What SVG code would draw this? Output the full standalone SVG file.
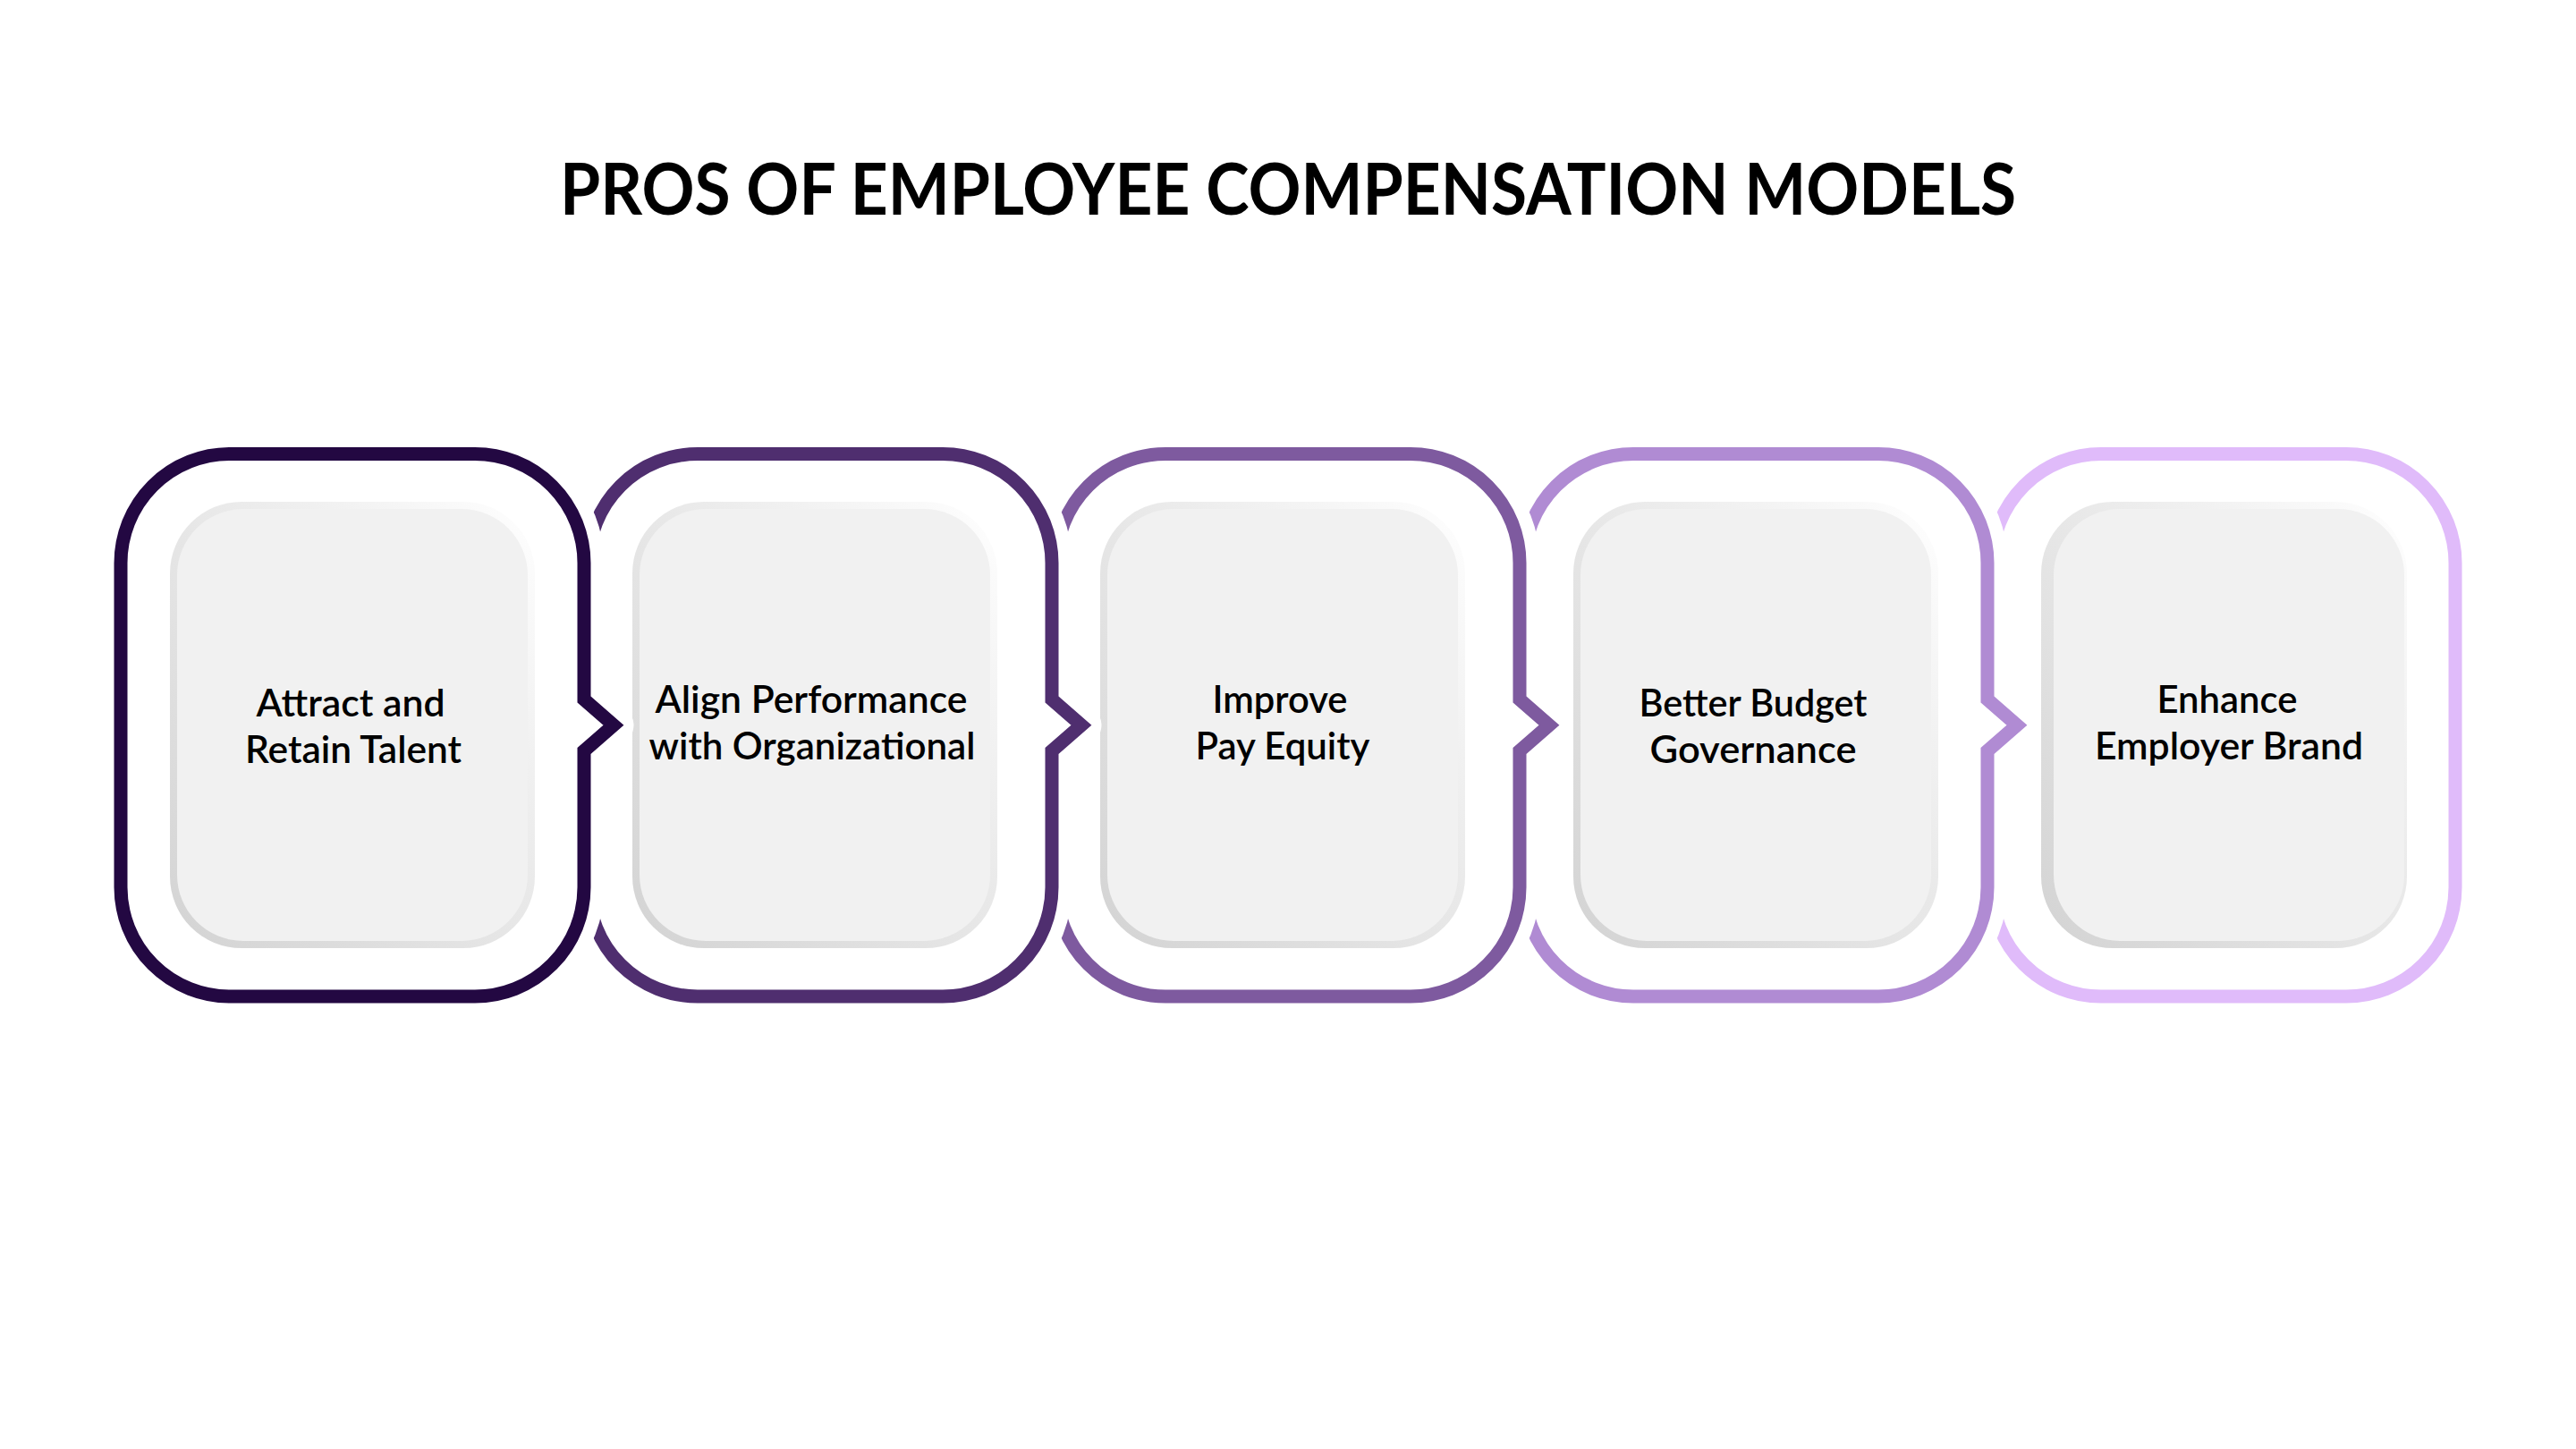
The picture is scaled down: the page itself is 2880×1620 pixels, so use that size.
<svg xmlns="http://www.w3.org/2000/svg" width="2880" height="1620" viewBox="0 0 2880 1620">
  <defs>
    <linearGradient id="boxEdge" x1="0" y1="1" x2="1" y2="0">
      <stop offset="0" stop-color="#d3d3d3"/>
      <stop offset="0.55" stop-color="#e9e9e9"/>
      <stop offset="1" stop-color="#ffffff"/>
    </linearGradient>
  </defs>
  <style>
    .halo { fill: none; stroke: #ffffff; stroke-width: 45; stroke-linejoin: round; }
    .frame { fill: none; stroke-width: 15; stroke-linejoin: miter; stroke-miterlimit: 10; }
    .back { fill: url(#boxEdge); }
    .front { fill: #f1f1f1; }
    .label { font-family: Lato, "Noto Sans", "Liberation Sans", sans-serif; font-weight: 600; font-size: 42px; fill: #000000; text-anchor: middle; }
    .title { font-family: Lato, "Noto Sans", "Liberation Sans", sans-serif; font-weight: 700; font-size: 80px; fill: #000000; text-anchor: middle; }
  </style>
  <rect x="0" y="0" width="2880" height="1620" fill="#ffffff"/>
  <text class="title" x="1440" y="240" textLength="1628" lengthAdjust="spacingAndGlyphs">PROS OF EMPLOYEE COMPENSATION MODELS</text>

  <g id="node5">
    <path class="halo" d="M2227,629.5 A122,122 0 0 1 2349,507.5 H2623 A122,122 0 0 1 2745,629.5 V992 A122,122 0 0 1 2623,1114 H2349 A122,122 0 0 1 2227,992"/>
    <path class="frame" stroke="#e0bbfa" d="M2227,629.5 A122,122 0 0 1 2349,507.5 H2623 A122,122 0 0 1 2745,629.5 V992 A122,122 0 0 1 2623,1114 H2349 A122,122 0 0 1 2227,992"/>
    <rect class="back" x="2282" y="561" width="409" height="499" rx="80"/>
    <rect class="front" x="2296" y="569" width="392" height="483" rx="74"/>
    <text class="label" x="2490" y="797" textLength="157" lengthAdjust="spacingAndGlyphs">Enhance</text>
    <text class="label" x="2492" y="849" textLength="300" lengthAdjust="spacingAndGlyphs">Employer Brand</text>
  </g>

  <g id="node4">
    <path class="halo" d="M1704,629.5 A122,122 0 0 1 1826,507.5 H2100 A122,122 0 0 1 2222,629.5 V782 L2255,810.75 L2222,839.5 V992 A122,122 0 0 1 2100,1114 H1826 A122,122 0 0 1 1704,992"/>
    <path class="frame" stroke="#b08bd3" d="M1704,629.5 A122,122 0 0 1 1826,507.5 H2100 A122,122 0 0 1 2222,629.5 V782 L2255,810.75 L2222,839.5 V992 A122,122 0 0 1 2100,1114 H1826 A122,122 0 0 1 1704,992"/>
    <rect class="back" x="1759" y="561" width="408" height="499" rx="80"/>
    <rect class="front" x="1767" y="569" width="392" height="483" rx="74"/>
    <text class="label" x="1960" y="801" textLength="255" lengthAdjust="spacingAndGlyphs">Better Budget</text>
    <text class="label" x="1960" y="853" textLength="231" lengthAdjust="spacingAndGlyphs">Governance</text>
  </g>

  <g id="node3">
    <path class="halo" d="M1181,629.5 A122,122 0 0 1 1303,507.5 H1577 A122,122 0 0 1 1699,629.5 V782 L1732,810.75 L1699,839.5 V992 A122,122 0 0 1 1577,1114 H1303 A122,122 0 0 1 1181,992"/>
    <path class="frame" stroke="#7e5a9f" d="M1181,629.5 A122,122 0 0 1 1303,507.5 H1577 A122,122 0 0 1 1699,629.5 V782 L1732,810.75 L1699,839.5 V992 A122,122 0 0 1 1577,1114 H1303 A122,122 0 0 1 1181,992"/>
    <rect class="back" x="1230" y="561" width="408" height="499" rx="80"/>
    <rect class="front" x="1238" y="569" width="392" height="483" rx="74"/>
    <text class="label" x="1431" y="797" textLength="151" lengthAdjust="spacingAndGlyphs">Improve</text>
    <text class="label" x="1434" y="849" textLength="195" lengthAdjust="spacingAndGlyphs">Pay Equity</text>
  </g>

  <g id="node2">
    <path class="halo" d="M658,629.5 A122,122 0 0 1 780,507.5 H1054 A122,122 0 0 1 1176,629.5 V782 L1209,810.75 L1176,839.5 V992 A122,122 0 0 1 1054,1114 H780 A122,122 0 0 1 658,992"/>
    <path class="frame" stroke="#4f2e6f" d="M658,629.5 A122,122 0 0 1 780,507.5 H1054 A122,122 0 0 1 1176,629.5 V782 L1209,810.75 L1176,839.5 V992 A122,122 0 0 1 1054,1114 H780 A122,122 0 0 1 658,992"/>
    <rect class="back" x="707" y="561" width="408" height="499" rx="80"/>
    <rect class="front" x="715" y="569" width="392" height="483" rx="74"/>
    <text class="label" x="907" y="797" textLength="349" lengthAdjust="spacingAndGlyphs">Align Performance</text>
    <text class="label" x="908" y="849" textLength="365" lengthAdjust="spacingAndGlyphs">with Organizational</text>
  </g>

  <g id="node1">
    <path class="halo" d="M257,507.5 H531 A122,122 0 0 1 653,629.5 V782 L686,810.75 L653,839.5 V992 A122,122 0 0 1 531,1114 H257 A122,122 0 0 1 135,992 V629.5 A122,122 0 0 1 257,507.5 Z"/>
    <path class="frame" stroke="#230842" d="M257,507.5 H531 A122,122 0 0 1 653,629.5 V782 L686,810.75 L653,839.5 V992 A122,122 0 0 1 531,1114 H257 A122,122 0 0 1 135,992 V629.5 A122,122 0 0 1 257,507.5 Z"/>
    <rect class="back" x="190" y="561" width="408" height="499" rx="80"/>
    <rect class="front" x="198" y="569" width="392" height="483" rx="74"/>
    <text class="label" x="392" y="801" textLength="211" lengthAdjust="spacingAndGlyphs">Attract and</text>
    <text class="label" x="395" y="853" textLength="242" lengthAdjust="spacingAndGlyphs">Retain Talent</text>
  </g>
</svg>
